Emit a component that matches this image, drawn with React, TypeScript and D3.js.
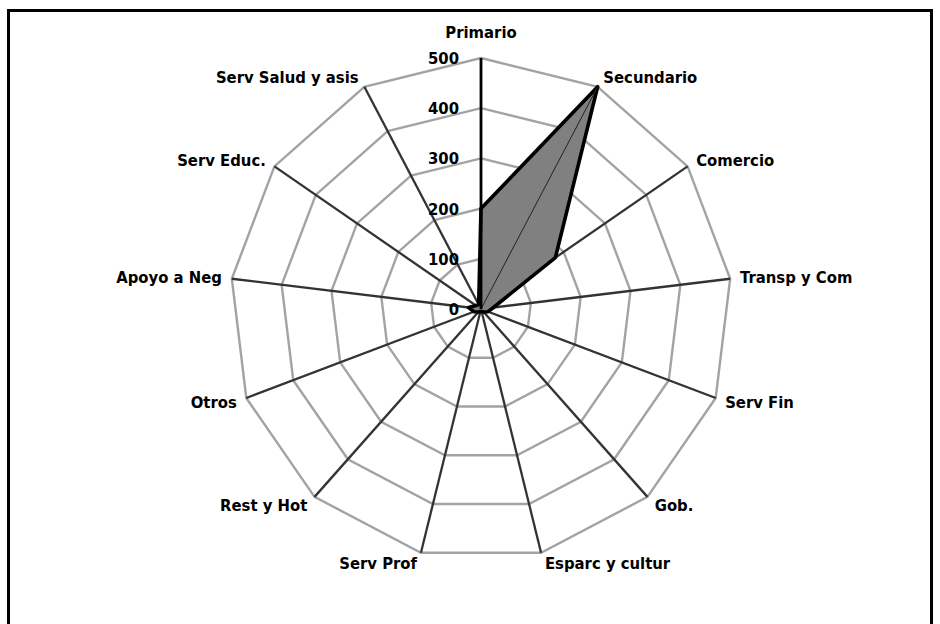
import React from "react";
import * as d3 from "d3";

const categories = [
  "Primario",
  "Secundario",
  "Comercio",
  "Transp y Com",
  "Serv Fin",
  "Gob.",
  "Esparc y cultur",
  "Serv Prof",
  "Rest y Hot",
  "Otros",
  "Apoyo a Neg",
  "Serv Educ.",
  "Serv Salud y asis",
];
const values = [200, 500, 180, 25, 15, 8, 5, 5, 8, 15, 25, 12, 10];
const ticks = [0, 100, 200, 300, 400, 500];

const W = 940;
const H = 624;
const cx = 481;
const cy = 309;
const R = 251;
const FONT = "'DejaVu Sans Condensed', 'DejaVu Sans', sans-serif";

export default function App() {
  const n = categories.length;
  const angle = d3
    .scaleLinear()
    .domain([0, n])
    .range([0, 2 * Math.PI]);
  const r = d3.scaleLinear().domain([0, 500]).range([0, R]);
  const pt = (i: number, v: number): [number, number] => {
    const a = angle(i);
    return [cx + r(v) * Math.sin(a), cy - r(v) * Math.cos(a)];
  };
  const closed = d3.line<[number, number]>().curve(d3.curveLinearClosed);

  const rings = ticks.filter((t) => t > 0).map((t) =>
    closed(categories.map((_, i) => pt(i, t)))
  );
  const dataPath = closed(values.map((v, i) => pt(i, v)));

  return (
    <svg
      width={W}
      height={H}
      style={{ position: "absolute", left: 0, top: 0, background: "#fff" }}
      fontFamily={FONT}
    >
      <rect x={0} y={0} width={W} height={H} fill="#fff" />
      {/* frame */}
      <rect
        x={8.5}
        y={10.5}
        width={923}
        height={700}
        fill="none"
        stroke="#000"
        strokeWidth={3}
      />
      {/* grid rings */}
      {rings.map((d, k) => (
        <path key={k} d={d || ""} fill="none" stroke="#a3a3a3" strokeWidth={2.4} />
      ))}
      {/* spokes */}
      {categories.map((c, i) => {
        if (i === 0) return null;
        const [x, y] = pt(i, 500);
        return (
          <line
            key={c}
            x1={cx}
            y1={cy}
            x2={x}
            y2={y}
            stroke="#333"
            strokeWidth={2.3}
          />
        );
      })}
      {/* data polygon */}
      <path
        d={dataPath || ""}
        fill="#808080"
        stroke="#000"
        strokeWidth={3.6}
        strokeLinejoin="round"
      />
      {/* Secundario spoke visible over fill */}
      {(() => {
        const [x, y] = pt(1, values[1]);
        return (
          <line x1={cx} y1={cy} x2={x} y2={y} stroke="#222" strokeWidth={1} />
        );
      })()}
      {/* value axis (Primario spoke) */}
      {(() => {
        const [x, y] = pt(0, 500);
        return (
          <line x1={cx} y1={cy} x2={x} y2={y} stroke="#000" strokeWidth={2.8} />
        );
      })()}
      {/* tick labels */}
      {ticks.map((t) => {
        const [, y] = pt(0, t);
        return (
          <text
            key={t}
            x={cx - 22}
            y={y}
            dy="0.36em"
            textAnchor="end"
            fontSize={16.5}
            fontWeight="bold"
            fill="#000"
          >
            {t}
          </text>
        );
      })}
      {/* category labels */}
      {categories.map((c, i) => {
        const a = angle(i);
        const s = Math.sin(a);
        const co = Math.cos(a);
        const [tx, ty] = pt(i, 500);
        let x = tx;
        let y = ty;
        let anchor: "start" | "end" | "middle" = "middle";
        if (Math.abs(s) < 0.05) {
          y = ty - 26;
        } else {
          const off = 2 + 8 * Math.abs(s);
          anchor = s > 0 ? "start" : "end";
          x = tx + (s > 0 ? off : -off);
          y = ty - 11 * co;
        }
        return (
          <text
            key={c}
            x={x}
            y={y}
            dy="0.36em"
            textAnchor={anchor}
            fontSize={16.5}
            fontWeight="bold"
            fill="#000"
          >
            {c}
          </text>
        );
      })}
    </svg>
  );
}
